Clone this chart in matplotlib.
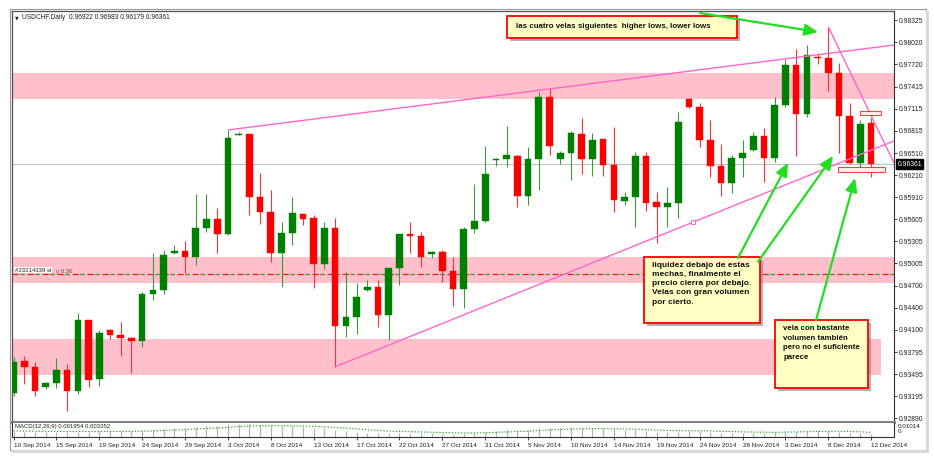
import matplotlib
matplotlib.use('Agg')
import matplotlib.pyplot as plt
from matplotlib.patches import Rectangle
import matplotlib.patheffects as pe

plt.rcParams['font.family'] = ['Liberation Sans', 'DejaVu Sans']

W, H = 934, 463

# ---------------- data ----------------
tick_labels = ["10 Sep 2014", "15 Sep 2014", "19 Sep 2014", "24 Sep 2014", "29 Sep 2014",
               "3 Oct 2014", "8 Oct 2014", "13 Oct 2014", "17 Oct 2014", "22 Oct 2014",
               "27 Oct 2014", "31 Oct 2014", "5 Nov 2014", "10 Nov 2014", "14 Nov 2014",
               "19 Nov 2014", "24 Nov 2014", "28 Nov 2014", "3 Dec 2014", "8 Dec 2014",
               "12 Dec 2014"]

opens = [0.93242, 0.93674, 0.93596, 0.93315, 0.93370, 0.93551, 0.93265, 0.94229, 0.93425, 0.94101,
         0.94025, 0.93992, 0.93951, 0.94584, 0.94643, 0.95147, 0.95174, 0.95097, 0.95492, 0.95607,
         0.95402, 0.96761, 0.96766, 0.95907, 0.95706, 0.95151, 0.95416, 0.95675, 0.95620, 0.94993,
         0.95484, 0.94151, 0.94278, 0.94643, 0.94688, 0.94302, 0.94938, 0.95402, 0.95379, 0.95133,
         0.95157, 0.94902, 0.94652, 0.95470, 0.95588, 0.96416, 0.96425, 0.96474, 0.95929, 0.96433,
         0.97271, 0.96433, 0.96507, 0.96766, 0.96425, 0.96698, 0.96347, 0.95856, 0.95907, 0.96470,
         0.95839, 0.95770, 0.95825, 0.97252, 0.97143, 0.96688, 0.96334, 0.96106, 0.96447, 0.96552,
         0.96743, 0.96447, 0.97166, 0.97711, 0.97043, 0.97824, 0.97803, 0.97598, 0.97016, 0.96380,
         0.96922]
highs = [0.93729, 0.93742, 0.93665, 0.93392, 0.93719, 0.93629, 0.94325, 0.94240, 0.94097, 0.94110,
         0.94202, 0.94000, 0.94619, 0.95143, 0.95188, 0.95252, 0.95307, 0.95952, 0.95948, 0.95761,
         0.96825, 0.96802, 0.96770, 0.96238, 0.96006, 0.95574, 0.95915, 0.95680, 0.95665, 0.95566,
         0.95620, 0.94892, 0.94734, 0.94779, 0.94779, 0.94945, 0.95410, 0.95574, 0.95438, 0.95174,
         0.95188, 0.95097, 0.95495, 0.96088, 0.96611, 0.96440, 0.96883, 0.96480, 0.96589, 0.97347,
         0.97393, 0.96538, 0.96815, 0.96984, 0.96780, 0.96705, 0.96870, 0.95983, 0.96529, 0.96529,
         0.95983, 0.96043, 0.97074, 0.97260, 0.97189, 0.96961, 0.96630, 0.96484, 0.96688, 0.96802,
         0.96848, 0.97271, 0.97789, 0.97925, 0.97984, 0.97871, 0.98234, 0.97734, 0.97189, 0.96961,
         0.96983]
lows = [0.93197, 0.93356, 0.93197, 0.93288, 0.93302, 0.92992, 0.93220, 0.93315, 0.93333, 0.93970,
        0.93742, 0.93515, 0.93869, 0.94506, 0.94584, 0.95140, 0.94870, 0.94983, 0.95438, 0.95151,
        0.95395, 0.96752, 0.95665, 0.95539, 0.95020, 0.94688, 0.95256, 0.95529, 0.94666, 0.94929,
        0.93595, 0.93997, 0.94042, 0.94630, 0.94142, 0.93961, 0.94711, 0.95151, 0.94960, 0.95075,
        0.94756, 0.94424, 0.94393, 0.95424, 0.95574, 0.96334, 0.96324, 0.95779, 0.95802, 0.96006,
        0.96484, 0.96361, 0.96143, 0.96225, 0.96197, 0.96197, 0.95710, 0.95802, 0.95506, 0.95724,
        0.95279, 0.95506, 0.95620, 0.97121, 0.96597, 0.96188, 0.95925, 0.95961, 0.96188, 0.96545,
        0.96120, 0.96392, 0.97143, 0.96470, 0.96998, 0.97725, 0.97357, 0.96507, 0.96365, 0.96256,
        0.96179]
closes = [0.93665, 0.93596, 0.93265, 0.93370, 0.93551, 0.93265, 0.94229, 0.93415, 0.94056, 0.94025,
          0.93988, 0.93951, 0.94584, 0.94647, 0.95116, 0.95174, 0.95097, 0.95492, 0.95607, 0.95402,
          0.96712, 0.96774, 0.95907, 0.95706, 0.95151, 0.95416, 0.95689, 0.95611, 0.94993, 0.95484,
          0.94151, 0.94278, 0.94543, 0.94688, 0.94302, 0.94938, 0.95402, 0.95379, 0.95097, 0.95157,
          0.94902, 0.94652, 0.95470, 0.95588, 0.96225, 0.96433, 0.96484, 0.95929, 0.96433, 0.97271,
          0.96607, 0.96507, 0.96780, 0.96425, 0.96688, 0.96347, 0.95870, 0.95907, 0.96470, 0.95833,
          0.95779, 0.95833, 0.96938, 0.97143, 0.96688, 0.96334, 0.96106, 0.96447, 0.96507, 0.96743,
          0.96447, 0.97166, 0.97711, 0.97043, 0.97848, 0.97803, 0.97606, 0.97016, 0.96375, 0.96902,
          0.96361]

macd_main = [0.0040, 0.0040, 0.0038, 0.0036, 0.0036, 0.0033, 0.0040, 0.0038, 0.0041, 0.0043,
             0.0043, 0.0042, 0.0047, 0.0053, 0.0062, 0.0068, 0.0070, 0.0077, 0.0082, 0.0082,
             0.0096, 0.0101, 0.0098, 0.0094, 0.0087, 0.0083, 0.0080, 0.0076, 0.0069, 0.0066,
             0.0051, 0.0041, 0.0035, 0.0032, 0.0026, 0.0026, 0.0029, 0.0031, 0.0030, 0.0029,
             0.0025, 0.0019, 0.0024, 0.0029, 0.0038, 0.0045, 0.0051, 0.0050, 0.0055, 0.0068,
             0.0069, 0.0070, 0.0072, 0.0068, 0.0068, 0.0064, 0.0056, 0.0050, 0.0051, 0.0044,
             0.0038, 0.0034, 0.0040, 0.0046, 0.0045, 0.0040, 0.0032, 0.0031, 0.0030, 0.0031,
             0.0028, 0.0033, 0.0041, 0.0040, 0.0047, 0.0050, 0.0047, 0.0039, 0.0030, 0.0028,
             0.001954]
macd_signal = [0.0045, 0.0044, 0.0043, 0.0042, 0.0041, 0.0040, 0.0040, 0.0040, 0.0040, 0.0041,
               0.0041, 0.0042, 0.0043, 0.0045, 0.0048, 0.0052, 0.0055, 0.0060, 0.0064, 0.0067,
               0.0073, 0.0079, 0.0082, 0.0085, 0.0085, 0.0085, 0.0084, 0.0082, 0.0080, 0.0077,
               0.0072, 0.0066, 0.0060, 0.0054, 0.0049, 0.0044, 0.0041, 0.0039, 0.0037, 0.0035,
               0.0033, 0.0030, 0.0029, 0.0029, 0.0031, 0.0034, 0.0037, 0.0040, 0.0043, 0.0048,
               0.0052, 0.0056, 0.0059, 0.0061, 0.0063, 0.0063, 0.0062, 0.0060, 0.0058, 0.0055,
               0.0052, 0.0048, 0.0047, 0.0046, 0.0046, 0.0045, 0.0042, 0.0040, 0.0038, 0.0036,
               0.0035, 0.0034, 0.0036, 0.0037, 0.0039, 0.0041, 0.0042, 0.0042, 0.0040, 0.0038,
               0.003352]

price_ticks = [0.98325, 0.98020, 0.97720, 0.97415, 0.97115, 0.96815, 0.96510, 0.96210, 0.95910,
               0.95605, 0.95305, 0.95005, 0.94700, 0.94400, 0.94100, 0.93795, 0.93495, 0.93195,
               0.92890]
last_price = 0.96361
order_line = 0.94854

zones = [(0.97243, 0.97598), (0.94734, 0.95097)]
zone_low = (0.93483, 0.93974, 80.9)   # lower, upper, right end (bar index)

# trend lines: (x0, p0, x1, p1) in bar index / price
trendlines = [(20, 0.96825, 82.13, 0.97984),
              (30, 0.93595, 82.13, 0.96675),
              (76, 0.98234, 82.13, 0.96375)]
trend_marker = (63.4, 0.95568)

small_rects = [(78.96, 0.97029, 80.92, 0.97084), (76.92, 0.96248, 81.30, 0.96324)]

notes = [
    dict(box=(46.04, 0.98080, 67.49, 0.98380),
         text="las cuatro velas siguientes  higher lows, lower lows",
         pos=(46.88, 0.98230), va='center', fs=5.7, ls=1.4),
    dict(box=(58.82, 0.94192, 69.64, 0.95093),
         text="liquidez debajo de estas\nmechas, finalmente el\nprecio cierra por debajo.\nVelas con gran volumen\npor cierto.",
         pos=(59.56, 0.95030), va='top', fs=6.0, ls=1.45),
    dict(box=(71.04, 0.93306, 79.71, 0.94233),
         text="vela con bastante\nvolumen también\npero no el suficiente\nparece",
         pos=(71.78, 0.94160), va='top', fs=5.7, ls=1.5),
]
arrows = [((64.04, 0.98420), (75.05, 0.98161)),
          ((67.58, 0.95079), (72.25, 0.96379)),
          ((69.45, 0.95029), (76.45, 0.96470)),
          ((74.86, 0.94233), (78.50, 0.96170))]

# ---------------- figure ----------------
fig = plt.figure(figsize=(W / 100, H / 100), dpi=100)
fig.patch.set_facecolor('white')


def px_axes(x0, y0, x1, y1, **kw):
    return fig.add_axes([x0 / W, 1 - y1 / H, (x1 - x0) / W, (y1 - y0) / H], **kw)


bg = px_axes(0, 0, W, H)
bg.set_xlim(0, W)
bg.set_ylim(H, 0)
bg.axis('off')
bg.set_zorder(-10)
bg.add_patch(Rectangle((9.5, 8.5), 916, 441, fill=False, edgecolor='#9a9a9a', lw=0.8))
bg.add_patch(Rectangle((926, 11), 3, 441, facecolor='#d8d8d8', edgecolor='none'))
bg.add_patch(Rectangle((12, 450), 917, 3, facecolor='#d8d8d8', edgecolor='none'))

n = len(opens)
xs = list(range(n))
XL = (-0.14, 82.13)

ax = px_axes(12, 11, 894, 422)
ax.set_xlim(*XL)
ax.set_ylim(0.92842, 0.98448)
ax.set_facecolor('white')

# zones
for lo, hi in zones:
    ax.axhspan(lo, hi, color='#FFC0CB', lw=0, zorder=0)
ax.add_patch(Rectangle((XL[0], zone_low[0]), zone_low[2] - XL[0], zone_low[1] - zone_low[0],
                       facecolor='#FFC0CB', edgecolor='none', zorder=0))

# current price line
ax.axhline(last_price, color='#c0c0c0', lw=0.8, zorder=1)

# order / SL line
ax.axhline(order_line, color='#e02020', lw=0.9, linestyle=(0, (5, 3, 1, 3)), zorder=1.5)
ax.axhline(order_line, color='#4a9a4a', lw=0.9, linestyle=(6, (4, 8)), zorder=1.6)
ax.text(0.14, order_line + 0.00060, "#23214339 sl", fontsize=4.3, color='#202020',
        va='center', ha='left', zorder=6,
        bbox=dict(facecolor='white', edgecolor='none', pad=0.6))
ax.text(3.96, order_line + 0.00034, "y 0.30", fontsize=4.3, color='#505050',
        va='center', ha='left', zorder=6)

# candles
body_w = 0.62
for i in xs:
    o, h, l, c = opens[i], highs[i], lows[i], closes[i]
    col = '#008000' if c >= o else '#FF0000'
    wcol = '#3a9a3a' if c >= o else '#ff3030'
    ax.vlines(i, l, h, color=wcol, lw=0.8, zorder=3)
    hgt = max(abs(c - o), 0.00012)
    ax.bar(i, hgt, bottom=min(o, c) - (hgt - abs(c - o)) / 2, width=body_w, color=col,
           edgecolor=col, lw=0.3, zorder=4)

# trend lines
for x0, p0, x1, p1 in trendlines:
    ax.plot([x0, x1], [p0, p1], color='#FF66CC', lw=1.0, zorder=5, solid_capstyle='butt')
ax.plot([trend_marker[0]], [trend_marker[1]], marker='s', ms=2.2, mfc='white', mec='#FF66CC',
        mew=0.7, zorder=5)

# small rectangles
for x0, p0, x1, p1 in small_rects:
    ax.add_patch(Rectangle((x0, p0), x1 - x0, p1 - p0, facecolor='#fff0f0', edgecolor='#ff4040',
                           lw=0.8, zorder=6))

# notes
for nt in notes:
    x0, p0, x1, p1 = nt['box']
    r = Rectangle((x0, p0), x1 - x0, p1 - p0, facecolor='#FFFFC4', edgecolor='#FF0000', lw=1.3,
                  zorder=7, clip_on=False,
                  path_effects=[pe.SimplePatchShadow(offset=(2, -2), shadow_rgbFace='#808080',
                                                     alpha=0.6), pe.Normal()])
    ax.add_patch(r)
    ax.text(nt['pos'][0], nt['pos'][1], nt['text'], fontsize=nt['fs'], fontweight='bold',
            color='#101010', ha='left', va=nt['va'], linespacing=nt['ls'], zorder=8)

# arrows
for start, tip in arrows:
    ax.annotate('', xy=tip, xytext=start, zorder=9,
                arrowprops=dict(arrowstyle='-|>,head_length=0.5,head_width=0.22',
                                color='#22DD22', lw=1.6, mutation_scale=16,
                                shrinkA=0, shrinkB=0))

# axes styling
ax.yaxis.tick_right()
ax.set_yticks(price_ticks)
ax.set_yticklabels([f"{p:.5f}" for p in price_ticks])
ax.tick_params(axis='y', direction='out', length=2, width=0.6, pad=1.5, labelsize=4.9,
               colors='#202020')
ax.tick_params(axis='x', bottom=False, labelbottom=False)
for s in ('left', 'top'):
    ax.spines[s].set_color('#505050')
    ax.spines[s].set_linewidth(0.9)
ax.spines['right'].set_color('#303030')
ax.spines['right'].set_linewidth(0.8)
ax.spines['bottom'].set_color('#7a7a7a')
ax.spines['bottom'].set_linewidth(2.0)

ax.text(1.004, last_price, f"{last_price:.5f}", transform=ax.get_yaxis_transform(),
        fontsize=4.9, color='white', ha='left', va='center', zorder=10,
        bbox=dict(facecolor='black', edgecolor='black', pad=0.9))

# title
fig.text(15 / W, 1 - 17.5 / H, "\u25BC", fontsize=3.5, family='DejaVu Sans', va='center',
         color='#202020')
fig.text(22 / W, 1 - 17.5 / H, "USDCHF.Daily  0.96922 0.96983 0.96179 0.96361", fontsize=4.8,
         va='center', color='#202020')

# MACD panel
am = px_axes(12, 423, 894, 437)
am.set_xlim(*XL)
am.set_ylim(-0.0002, 0.0106)
am.vlines(xs, 0, macd_main, color='#b4b4b4', lw=0.9)
am.plot(xs, macd_signal, color='#22A022', lw=0.8, linestyle=(0, (1.2, 1.6)))
am.set_yticks([])
am.spines['top'].set_visible(False)
for s in ('left', 'right', 'bottom'):
    am.spines[s].set_color('#303030')
    am.spines[s].set_linewidth(0.8)
am.set_xticks(list(range(0, n, 4)))
am.set_xticklabels(tick_labels, ha='left')
am.tick_params(axis='x', direction='out', length=2.5, width=0.6, pad=1.6, labelsize=4.6,
               colors='#202020')
am.text(1.004, 0.72, "0.01014", transform=am.transAxes, fontsize=4.5, ha='left', va='center',
        color='#202020')
am.text(1.004, 0.36, "0", transform=am.transAxes, fontsize=4.5, ha='left', va='center',
        color='#202020')
am.text(0.0035, 0.72, "MACD(12,26,9) 0.001954 0.003352", transform=am.transAxes, fontsize=4.3,
        ha='left', va='center', color='#202020')

fig.savefig('out.png', dpi=100)
